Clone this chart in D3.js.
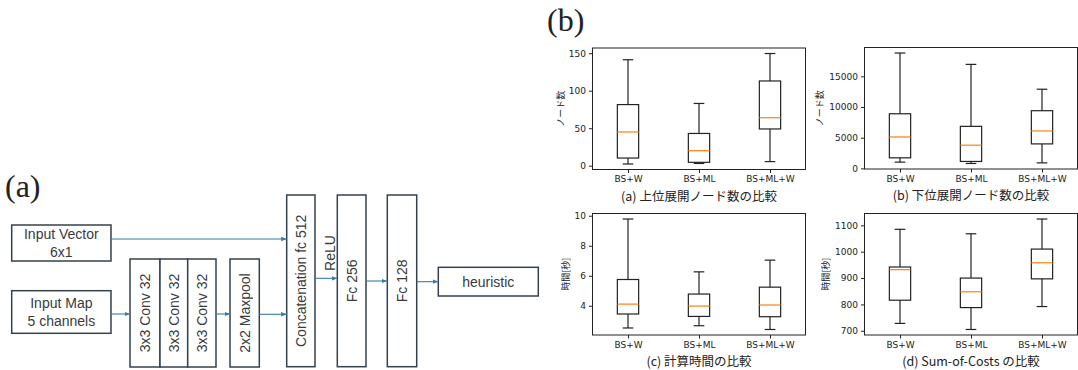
<!DOCTYPE html>
<html>
<head>
<meta charset="utf-8">
<script src="https://cdn.jsdelivr.net/npm/d3@7"></script>
<style>
  body { margin: 0; background: #fff; }
  .tick text { font-family: "DejaVu Sans", sans-serif; font-size: 9px; fill: #222; }
  .jp { font-family: "Noto Sans CJK JP", sans-serif; fill: #222; }
  .net text { font-family: "Liberation Sans", Arial, sans-serif; font-size: 14px; fill: #3a3a3a; }
</style>
</head>
<body>
<div id="fig"></div>
<script>
// box plot data: [low whisker, Q1, median, Q3, high whisker]
const categories = ['BS+W', 'BS+ML', 'BS+ML+W'];
const upperNodes = [[2.3, 10.2, 45, 81.5, 141.3], [3, 4.5, 20, 43, 83], [5.5, 49, 64, 113, 149.6]];
const lowerNodes = [[1020, 1720, 5120, 8900, 18800], [800, 1130, 3780, 6850, 16950], [900, 3990, 6100, 9400, 12900]];
const calcTime = [[2.52, 3.45, 4.11, 5.75, 9.78], [2.67, 3.29, 3.98, 4.78, 6.26], [2.42, 3.27, 4.05, 5.24, 7.04]];
const sumOfCosts = [[728, 816, 932, 942, 1085], [705, 788, 848, 900, 1068], [792, 897, 958, 1010, 1124]];

const upperTicks = [0, 50, 100, 150];
const lowerTicks = [0, 5000, 10000, 15000];
const timeTicks = [4, 6, 8, 10];
const costTicks = [700, 800, 900, 1000, 1100];

const panels = [
    { data: upperNodes, ticks: upperTicks, ylabel: 'ノード数', caption: '(a) 上位展開ノード数の比較', x: 592.5, y: 48, labelOff: 32 },
    { data: lowerNodes, ticks: lowerTicks, ylabel: 'ノード数', caption: '(b) 下位展開ノード数の比較', x: 864.5, y: 47.5, labelOff: 45 },
    { data: calcTime, ticks: timeTicks, ylabel: '時間[秒]', caption: '(c) 計算時間の比較', x: 592.5, y: 213.5, labelOff: 27 },
    { data: sumOfCosts, ticks: costTicks, ylabel: '時間[秒]', caption: '(d) Sum-of-Costs の比較', x: 864.5, y: 213.5, labelOff: 39 }
];
const pw = 213, ph = 121.5;

const svg = d3.select('#fig').append('svg')
    .attr('width', 1078)
    .attr('height', 370);
svg.append('rect').attr('width', 1078).attr('height', 370).attr('fill', '#fff');

// panel labels
svg.append('text').attr('x', 5).attr('y', 197)
    .style('font-family', '"Liberation Serif", serif').style('font-size', '32px').attr('fill', '#222')
    .text('(a)');
svg.append('text').attr('x', 547).attr('y', 31)
    .style('font-family', '"Liberation Serif", serif').style('font-size', '32px').attr('fill', '#222')
    .text('(b)');

// ---------- box plots ----------
panels.forEach(p => {
    const g = svg.append('g').attr('transform', `translate(${p.x}, ${p.y})`);

    // matplotlib style 5% margin
    const lo = d3.min(p.data, d => d[0]);
    const hi = d3.max(p.data, d => d[4]);
    const pad = (hi - lo) * 0.05;

    const y = d3.scaleLinear().domain([lo - pad, hi + pad]).range([ph, 0]);
    const x = d3.scaleLinear().domain([0.5, 3.5]).range([0, pw]);
    const bw = x(1.3) - x(1);
    const cw = x(1.15) - x(1);

    const boxes = g.selectAll('g.box')
        .data(p.data)
        .join('g')
        .attr('class', 'box');

    const cx = (d, i) => x(i + 1);

    boxes.append('line')
        .attr('x1', cx).attr('x2', cx)
        .attr('y1', d => y(d[0])).attr('y2', d => y(d[1]))
        .attr('stroke', '#222').attr('stroke-width', 1.2);
    boxes.append('line')
        .attr('x1', cx).attr('x2', cx)
        .attr('y1', d => y(d[3])).attr('y2', d => y(d[4]))
        .attr('stroke', '#222').attr('stroke-width', 1.2);
    [0, 4].forEach(k => {
        boxes.append('line')
            .attr('x1', (d, i) => cx(d, i) - cw / 2).attr('x2', (d, i) => cx(d, i) + cw / 2)
            .attr('y1', d => y(d[k])).attr('y2', d => y(d[k]))
            .attr('stroke', '#222').attr('stroke-width', 1.2);
    });
    boxes.append('rect')
        .attr('x', (d, i) => cx(d, i) - bw / 2)
        .attr('width', bw)
        .attr('y', d => y(d[3]))
        .attr('height', d => y(d[1]) - y(d[3]))
        .attr('fill', 'none').attr('stroke', '#222').attr('stroke-width', 1.2);
    boxes.append('line')
        .attr('x1', (d, i) => cx(d, i) - bw / 2).attr('x2', (d, i) => cx(d, i) + bw / 2)
        .attr('y1', d => y(d[2])).attr('y2', d => y(d[2]))
        .attr('stroke', '#ff7f0e').attr('stroke-width', 1.2);

    // axes
    const yAxis = d3.axisLeft(y).tickValues(p.ticks).tickFormat(d3.format('d')).tickSize(3.5).tickPadding(3);
    g.append('g').call(yAxis).call(a => a.select('.domain').remove())
        .call(a => a.selectAll('line').attr('stroke', '#222'));
    const xAxis = d3.axisBottom(x).tickValues([1, 2, 3]).tickFormat((d, i) => categories[i]).tickSize(3.5).tickPadding(3);
    g.append('g').attr('transform', `translate(0, ${ph})`).call(xAxis)
        .call(a => a.select('.domain').remove())
        .call(a => a.selectAll('line').attr('stroke', '#222'));

    g.append('rect').attr('width', pw).attr('height', ph)
        .attr('fill', 'none').attr('stroke', '#222').attr('stroke-width', 1);

    g.append('text').attr('class', 'jp')
        .attr('transform', `translate(${-p.labelOff}, ${ph / 2}) rotate(-90)`)
        .attr('text-anchor', 'middle').attr('dy', '0.35em')
        .style('font-size', '9px')
        .text(p.ylabel);

    g.append('text').attr('class', 'jp')
        .attr('x', pw / 2).attr('y', ph + 31)
        .attr('text-anchor', 'middle')
        .style('font-size', '12.5px')
        .text(p.caption);
});

// ---------- network diagram ----------
const net = svg.append('g').attr('class', 'net');
const boxStroke = '#35414d';
const arrowColor = '#3a7aa5';

svg.append('defs').append('marker')
    .attr('id', 'arr')
    .attr('viewBox', '0 0 10 10')
    .attr('refX', 10).attr('refY', 5)
    .attr('markerWidth', 5).attr('markerHeight', 5)
    .attr('orient', 'auto')
    .append('path').attr('d', 'M0,1L10,5L0,9Z').attr('fill', arrowColor);

// [x0, y0, x1, y1, label lines, rotated]
const blocks = [
    [11.7, 225, 111, 261, ['Input Vector', '6x1'], false],
    [11.7, 290.7, 111, 333.3, ['Input Map', '5 channels'], false],
    [130, 259, 160, 367, ['3x3 Conv 32'], true],
    [160, 259, 187.7, 367, ['3x3 Conv 32'], true],
    [187.7, 259, 216, 367, ['3x3 Conv 32'], true],
    [230, 259, 259.3, 367, ['2x2 Maxpool'], true],
    [286.7, 195, 315, 366.7, ['Concatenation fc 512'], true],
    [337.3, 195, 366, 366.7, ['Fc 256'], true],
    [387.3, 195, 416.7, 366.7, ['Fc 128'], true],
    [438.3, 267.3, 538.3, 296, ['heuristic'], false]
];

blocks.forEach(b => {
    const [x0, y0, x1, y1, lines, rot] = b;
    net.append('rect')
        .attr('x', x0).attr('y', y0).attr('width', x1 - x0).attr('height', y1 - y0)
        .attr('fill', '#fff').attr('stroke', boxStroke).attr('stroke-width', 1.5);
    const mx = (x0 + x1) / 2, my = (y0 + y1) / 2;
    if (rot) {
        net.append('text')
            .attr('transform', `translate(${mx}, ${my}) rotate(-90)`)
            .attr('text-anchor', 'middle').attr('dy', '0.36em')
            .text(lines[0]);
    } else {
        lines.forEach((t, i) => {
            net.append('text')
                .attr('x', mx).attr('y', my + (i - (lines.length - 1) / 2) * 17.5)
                .attr('text-anchor', 'middle').attr('dy', '0.36em')
                .text(t);
        });
    }
});

net.append('text')
    .attr('transform', 'translate(329.5, 253) rotate(-90)')
    .attr('text-anchor', 'middle').attr('dy', '0.36em')
    .text('ReLU');

const arrows = [
    [111, 239, 286.7, 239],
    [111, 314, 130, 314],
    [216, 314, 230, 314],
    [259.3, 314.3, 286.7, 314.3],
    [315, 278.3, 337.3, 278.3],
    [366, 281, 387.3, 281],
    [416.7, 281.7, 438.3, 281.7]
];
net.selectAll('line.arrow')
    .data(arrows)
    .join('line')
    .attr('class', 'arrow')
    .attr('x1', d => d[0]).attr('y1', d => d[1])
    .attr('x2', d => d[2]).attr('y2', d => d[3])
    .attr('stroke', arrowColor).attr('stroke-width', 1.1)
    .attr('marker-end', 'url(#arr)');
</script>
</body>
</html>
